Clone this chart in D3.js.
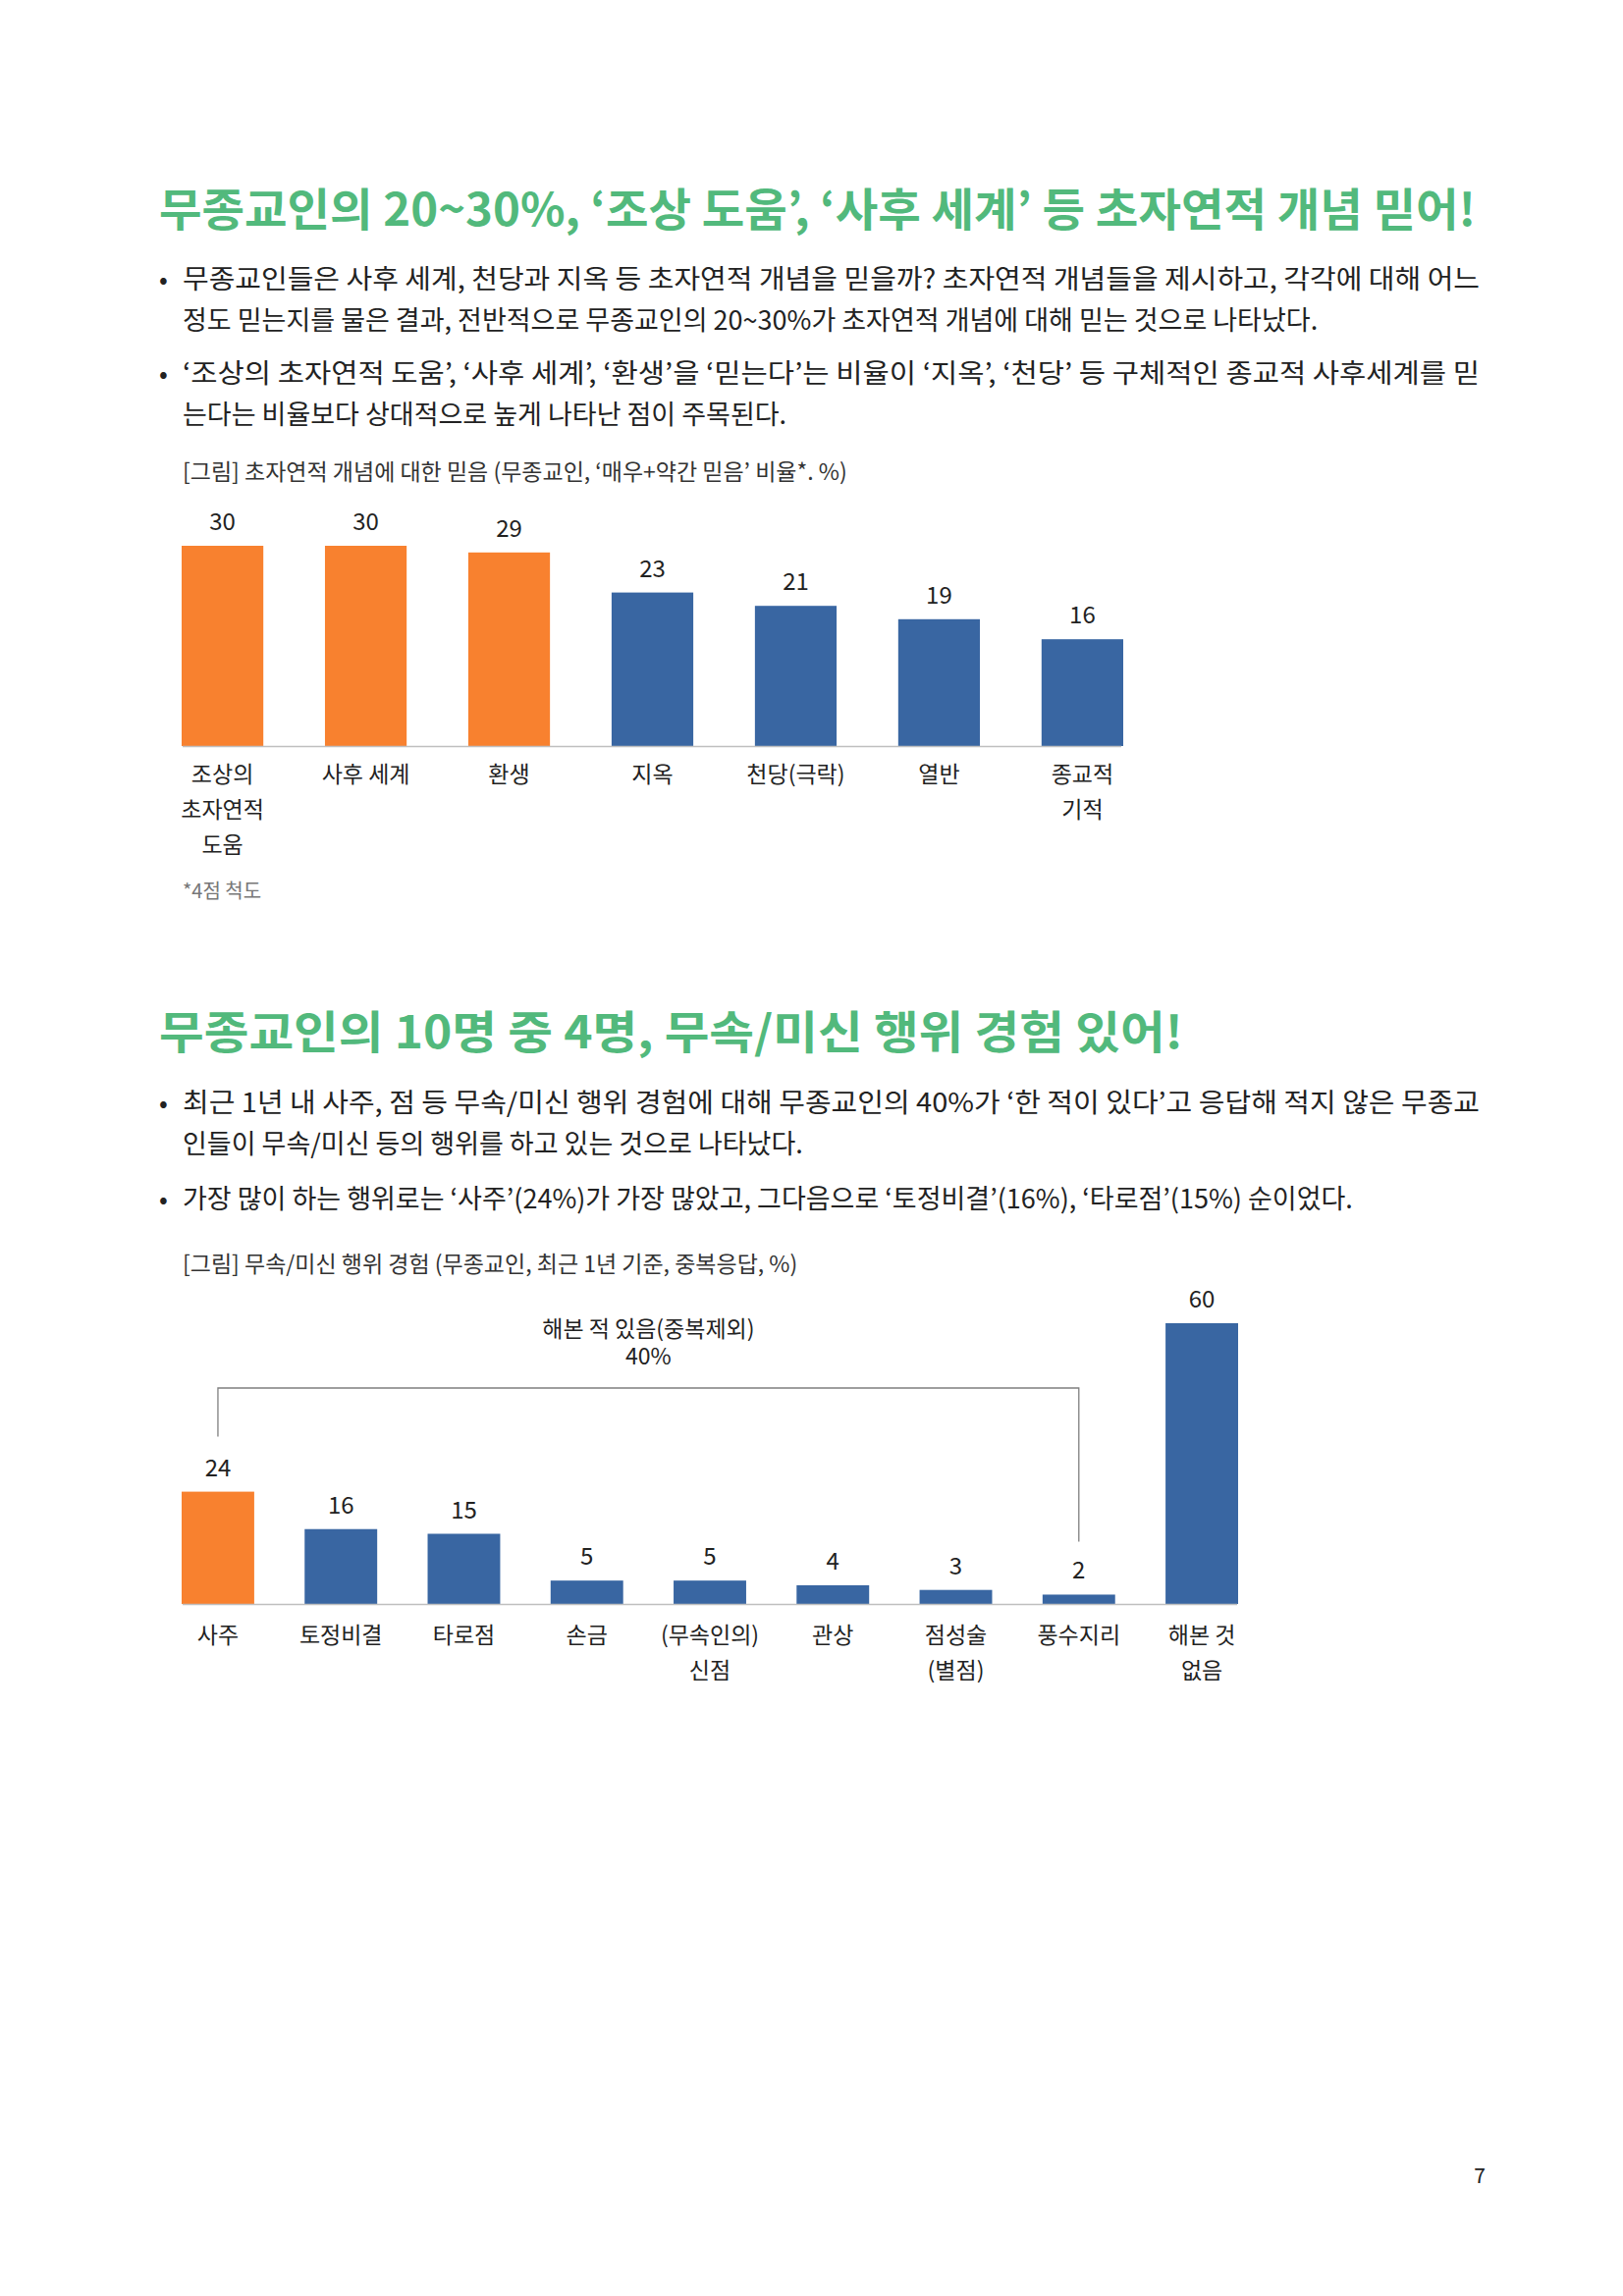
<!DOCTYPE html>
<html><head><meta charset="utf-8">
<script src="https://cdn.jsdelivr.net/npm/d3@7"></script>
<style>
body{margin:0;background:#fff}
svg{font-family:"Noto Sans CJK KR","Noto Sans",sans-serif}
</style></head>
<body>
<svg id="page" width="1653" height="2339"></svg>
<script>
// Chart 1 data
const beliefCats = [["조상의","초자연적","도움"],["사후 세계"],["환생"],["지옥"],["천당(극락)"],["열반"],["종교적","기적"]];
const beliefVals = [30, 30, 29, 23, 21, 19, 16];
const beliefHighlight = [true, true, true, false, false, false, false];

// Chart 2 data
const practiceCats = [["사주"],["토정비결"],["타로점"],["손금"],["(무속인의)","신점"],["관상"],["점성술","(별점)"],["풍수지리"],["해본 것","없음"]];
const practiceVals = [24, 16, 15, 5, 5, 4, 3, 2, 60];
const practiceHighlight = [true, false, false, false, false, false, false, false, false];

const ORANGE = "#F8812F", BLUE = "#3966A2", GREEN = "#52B97C", TEXT = "#222";
const svg = d3.select("#page");

// text helper: squeeze line if wider than maxW
function line(x, y, str, size, opts = {}) {
  const t = svg.append("text").attr("x", x).attr("y", y).attr("font-size", size)
    .attr("fill", opts.fill || TEXT).attr("font-weight", opts.weight || 400)
    .attr("text-anchor", opts.anchor || "start").text(str);
  if (opts.maxW) {
    const w = t.node().getComputedTextLength();
    if (w > opts.maxW || opts.fit) t.attr("textLength", opts.maxW).attr("lengthAdjust", "spacingAndGlyphs");
  }
  return t;
}

// Section 1 text
line(162, 230, "무종교인의 20~30%, ‘조상 도움’, ‘사후 세계’ 등 초자연적 개념 믿어!", 46, {fill: GREEN, weight: 700, maxW: 1341, fit: true});
line(162, 294, "•", 26);
line(186, 294, "무종교인들은 사후 세계, 천당과 지옥 등 초자연적 개념을 믿을까? 초자연적 개념들을 제시하고, 각각에 대해 어느", 27, {maxW: 1321, fit: true});
line(186, 336, "정도 믿는지를 물은 결과, 전반적으로 무종교인의 20~30%가 초자연적 개념에 대해 믿는 것으로 나타났다.", 27, {maxW: 1232});
line(162, 390, "•", 26);
line(186, 390, "‘조상의 초자연적 도움’, ‘사후 세계’, ‘환생’을 ‘믿는다’는 비율이 ‘지옥’, ‘천당’ 등 구체적인 종교적 사후세계를 믿", 27, {maxW: 1321, fit: true});
line(186, 432, "는다는 비율보다 상대적으로 높게 나타난 점이 주목된다.", 27, {maxW: 650});
line(186, 489, "[그림] 초자연적 개념에 대한 믿음 (무종교인, ‘매우+약간 믿음’ 비율*. %)", 23, {fill: "#333", maxW: 730});

function barChart(cats, vals, hi, cfg) {
  const x = d3.scaleBand().domain(d3.range(cats.length)).range([cfg.x0, cfg.x1]).paddingInner(cfg.pad).paddingOuter(0);
  const y = d3.scaleLinear().domain([0, cfg.max]).range([cfg.base, cfg.top]);
  const g = svg.append("g");
  g.selectAll("rect").data(vals).join("rect")
    .attr("x", (d, i) => x(i)).attr("width", x.bandwidth())
    .attr("y", d => y(d)).attr("height", d => y(0) - y(d))
    .attr("fill", (d, i) => hi[i] ? ORANGE : BLUE);
  g.append("line").attr("x1", cfg.lx0).attr("x2", cfg.lx1).attr("y1", cfg.base + 0.5).attr("y2", cfg.base + 0.5)
    .attr("stroke", "#bfbfbf").attr("stroke-width", 1.5);
  g.selectAll(".val").data(vals).join("text")
    .attr("x", (d, i) => x(i) + x.bandwidth() / 2).attr("y", d => y(d) - 16)
    .attr("text-anchor", "middle").attr("font-size", 24).attr("fill", TEXT).text(d => d);
  cats.forEach((c, i) => c.forEach((s, j) => {
    g.append("text").attr("x", x(i) + x.bandwidth() / 2).attr("y", cfg.base + cfg.labDy + j * 36)
      .attr("text-anchor", "middle").attr("font-size", 23).attr("fill", TEXT).text(s);
  }));
  return {x, y};
}

barChart(beliefCats, beliefVals, beliefHighlight, {x0: 185, x1: 1144, pad: 0.43, max: 30, base: 760, top: 556, lx0: 186, lx1: 1142, labDy: 37});
line(186, 915, "*4점 척도", 20, {fill: "#777"});

// Section 2 text
line(162, 1068, "무종교인의 10명 중 4명, 무속/미신 행위 경험 있어!", 46, {fill: GREEN, weight: 700, maxW: 1043, fit: true});
line(162, 1133, "•", 26);
line(186, 1133, "최근 1년 내 사주, 점 등 무속/미신 행위 경험에 대해 무종교인의 40%가 ‘한 적이 있다’고 응답해 적지 않은 무종교", 27, {maxW: 1321, fit: true});
line(186, 1175, "인들이 무속/미신 등의 행위를 하고 있는 것으로 나타났다.", 27, {maxW: 675});
line(162, 1231, "•", 26);
line(186, 1231, "가장 많이 하는 행위로는 ‘사주’(24%)가 가장 많았고, 그다음으로 ‘토정비결’(16%), ‘타로점’(15%) 순이었다.", 27, {maxW: 1262});
line(186, 1296, "[그림] 무속/미신 행위 경험 (무종교인, 최근 1년 기준, 중복응답, %)", 23, {fill: "#333", maxW: 678});

const c2 = barChart(practiceCats, practiceVals, practiceHighlight, {x0: 185, x1: 1261, pad: 0.41, max: 60, base: 1634, top: 1348, lx0: 186, lx1: 1260, labDy: 40});

// bracket for "해본 적 있음"
const cx = i => c2.x(i) + c2.x.bandwidth() / 2;
svg.append("path")
  .attr("d", `M${cx(0)},${c2.y(24) - 56} V1414 H${cx(7)} V${c2.y(2) - 54}`)
  .attr("fill", "none").attr("stroke", "#7f7f7f").attr("stroke-width", 1.3);
const mid = (cx(0) + cx(7)) / 2;
line(mid, 1362, "해본 적 있음(중복제외)", 23, {anchor: "middle"});
line(mid, 1390, "40%", 23, {anchor: "middle"});

line(1507, 2224, "7", 21, {anchor: "middle"});
</script>
</body></html>
